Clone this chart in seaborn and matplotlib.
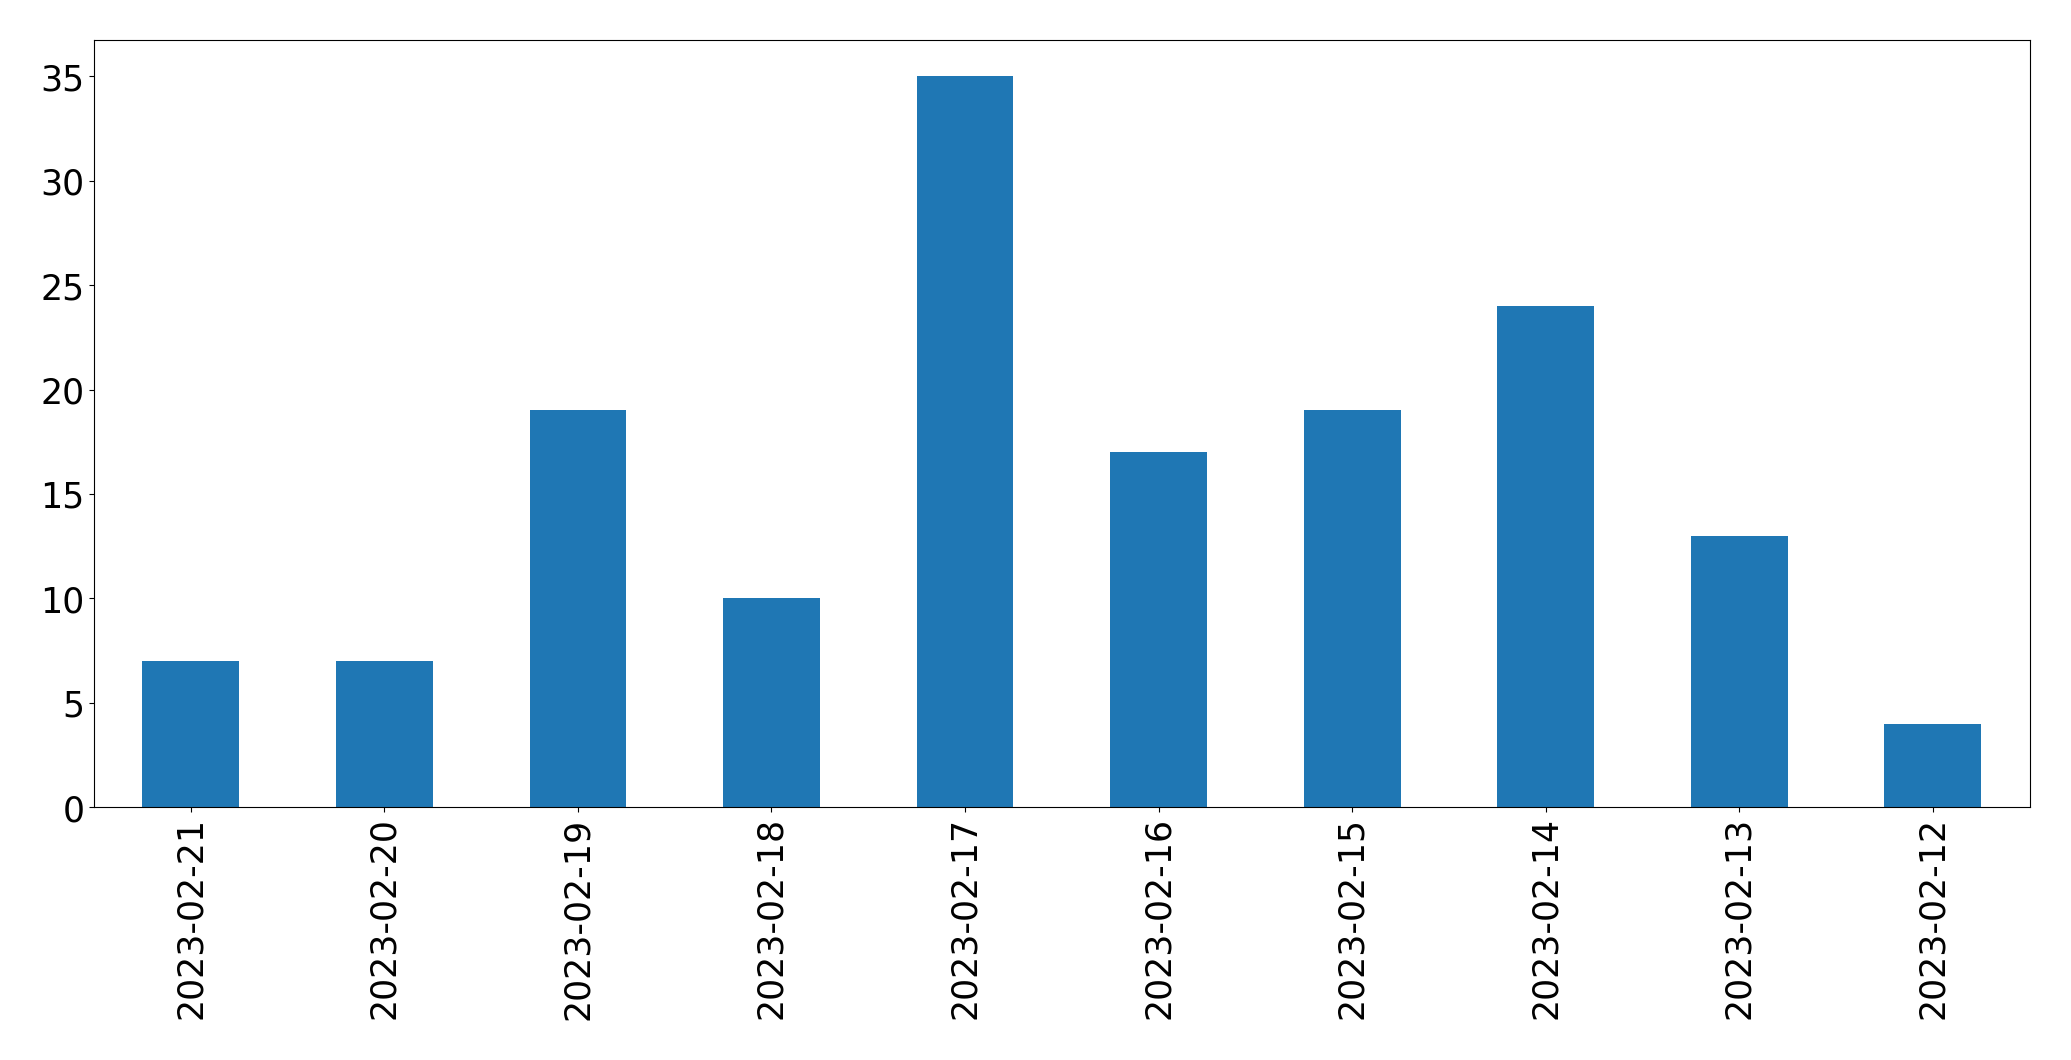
import matplotlib
matplotlib.use("Agg")
import matplotlib.pyplot as plt
import seaborn as sns
import pandas as pd

dates = ["2023-02-21", "2023-02-20", "2023-02-19", "2023-02-18", "2023-02-17",
         "2023-02-16", "2023-02-15", "2023-02-14", "2023-02-13", "2023-02-12"]
counts = [7, 7, 19, 10, 35, 17, 19, 24, 13, 4]

df = pd.DataFrame({"date": dates, "count": counts})

fig, ax = plt.subplots(figsize=(20.71, 10.605), dpi=100)
fig.subplots_adjust(left=0.0454, right=0.980, top=0.962, bottom=0.2385)
sns.barplot(data=df, x="date", y="count", order=dates, color="#1f77b4",
            saturation=1, width=0.5, ax=ax)
ax.set_xlim(-0.5, len(dates) - 0.5)
ax.set_ylim(0, max(counts) * 1.05)
ax.set_xlabel("")
ax.set_ylabel("")
ax.tick_params(axis="both", labelsize=25)
ax.tick_params(axis="x", labelrotation=90)
fig.savefig("out.png", dpi=100)
